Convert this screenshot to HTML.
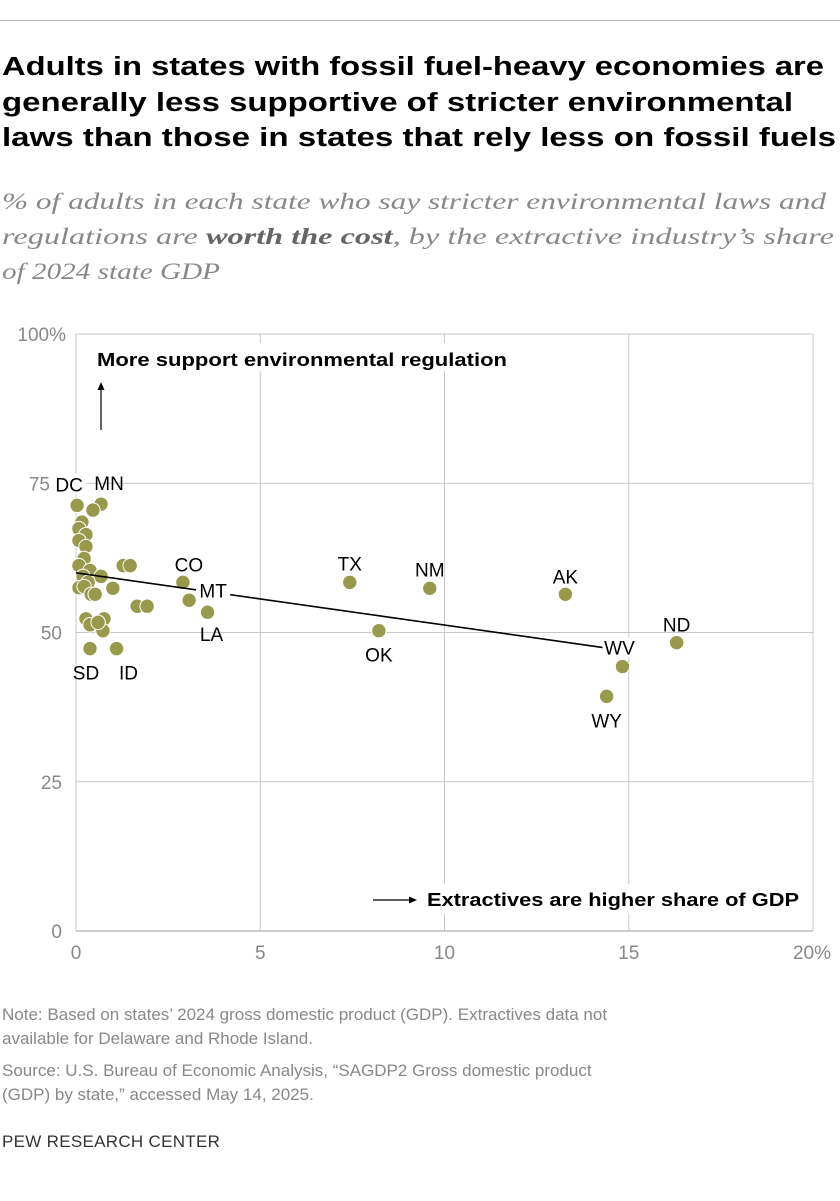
<!DOCTYPE html>
<html><head><meta charset="utf-8"><style>
body{margin:0;background:#fff;width:840px;height:1196px;overflow:hidden;font-family:"Liberation Sans",sans-serif;}
</style></head><body>
<svg width="840" height="1196" xmlns="http://www.w3.org/2000/svg">
<line x1="0" y1="20.5" x2="840" y2="20.5" stroke="#bbb" stroke-width="1"/>
<g font-family="Liberation Sans, sans-serif" font-weight="bold" font-size="25.5" fill="#000">
<text x="2" y="75" textLength="822" lengthAdjust="spacingAndGlyphs">Adults in states with fossil fuel-heavy economies are</text>
<text x="2" y="111" textLength="791" lengthAdjust="spacingAndGlyphs">generally less supportive of stricter environmental</text>
<text x="2" y="146" textLength="834" lengthAdjust="spacingAndGlyphs">laws than those in states that rely less on fossil fuels</text>
</g>
<g font-family="Liberation Serif, serif" font-style="italic" font-size="23" fill="#888">
<text x="2" y="209" textLength="824" lengthAdjust="spacingAndGlyphs">% of adults in each state who say stricter environmental laws and</text>
<text x="2" y="244" textLength="832" lengthAdjust="spacingAndGlyphs">regulations are <tspan font-weight="bold" fill="#666">worth the cost</tspan>, by the extractive industry’s share</text>
<text x="2" y="279" textLength="218" lengthAdjust="spacingAndGlyphs">of 2024 state GDP</text>
</g>
<g id="plot"></g>
<g font-size="17" fill="#888">
<text x="2" y="1020">Note: Based on states’ 2024 gross domestic product (GDP). Extractives data not</text>
<text x="2" y="1044">available for Delaware and Rhode Island.</text>
<text x="2" y="1076">Source: U.S. Bureau of Economic Analysis, “SAGDP2 Gross domestic product</text>
<text x="2" y="1100">(GDP) by state,” accessed May 14, 2025.</text>
</g>
<text x="2" y="1147" font-size="17" fill="#333" letter-spacing="0.3">PEW RESEARCH CENTER</text>
</svg>
<script>
const xTicks=[0,5,10,15,20];
const xTickLabels=["0","5","10","15","20%"];
const yTicks=[0,25,50,75,100];
const yTickLabels=["0","25","50","75","100%"];
const xs=[0.03,0.68,0.46,0.16,0.08,0.27,0.08,0.27,0.22,0.08,0.38,0.19,0.68,0.33,0.08,0.22,0.41,0.52,1.0,1.28,1.47,1.66,1.93,2.9,3.07,3.57,0.27,0.76,0.38,0.73,0.38,1.1,0.6,7.43,8.22,9.6,13.28,16.3,14.83,14.4];
const ys=[71.3,71.5,70.5,68.5,67.4,66.4,65.4,64.4,62.4,61.2,60.4,59.4,59.4,58.4,57.5,57.7,56.4,56.4,57.4,61.2,61.2,54.4,54.4,58.4,55.4,53.4,52.3,52.3,51.3,50.3,47.3,47.3,51.7,58.4,50.3,57.4,56.4,48.3,44.3,39.3];
const labels=["DC","MN","","","","","","","","","","","","","","","","","","","","","","CO","MT","LA","","","","","SD","ID","","TX","OK","NM","AK","ND","WV","WY"];
const labelDx=[-8,8,0,0,0,0,0,0,0,0,0,0,0,0,0,0,0,0,0,0,0,0,0,6,24,4,0,0,0,0,-4,12,0,0,0,0,0,0,-3,0];
const labelDy=[-21,-21,0,0,0,0,0,0,0,0,0,0,0,0,0,0,0,0,0,0,0,0,0,-18,-10,22,0,0,0,0,24,24,0,-19,24,-19,-18,-18,-19,24];
const trendX=[0,14.4];
const trendY=[60,47.4];
const X=v=>76+v*36.85, Y=v=>931-v*5.97;
const NS="http://www.w3.org/2000/svg";
const g=document.getElementById('plot');
function mk(t,a,p){const e=document.createElementNS(NS,t);for(const k in a)e.setAttribute(k,a[k]);(p||g).appendChild(e);return e;}
yTicks.forEach((t,i)=>{
 const l=mk('line',{x1:76,x2:X(20),y1:Y(t),y2:Y(t),stroke:t===0?'#999':'#c8c8c8','stroke-width':1});
 
 
 const tx=mk('text',{x:t===100?66:(t===75?50:62),y:Y(t)+7,'text-anchor':'end','font-size':19,fill:'#888'});tx.textContent=yTickLabels[i];
 
 
});
xTicks.forEach((t,i)=>{
 const l=mk('line',{x1:X(t),x2:X(t),y1:Y(100),y2:Y(0),stroke:'#c8c8c8','stroke-width':1});
 
 
 const tx=mk('text',{x:i===4?X(t)+18:X(t),y:959,'text-anchor':i===4?'end':'middle','font-size':19,fill:'#888'});tx.textContent=xTickLabels[i];
 
 
});
let a=mk('rect',{x:92,y:343,width:420,height:28,fill:'#fff'});

a=mk('text',{x:97,y:366,'font-size':18,'font-weight':'bold',textLength:410,lengthAdjust:'spacingAndGlyphs'});a.textContent='More support environmental regulation';

a=mk('line',{x1:101,x2:101,y1:430,y2:388,stroke:'#000','stroke-width':1.2});

a=mk('path',{d:'M97.5,390 L101,382 L104.5,390 Z',fill:'#000'});

a=mk('rect',{x:420,y:884,width:390,height:30,fill:'#fff'});

a=mk('text',{x:427,y:906,'font-size':18,'font-weight':'bold',textLength:372,lengthAdjust:'spacingAndGlyphs'});a.textContent='Extractives are higher share of GDP';

a=mk('line',{x1:373,x2:410,y1:900,y2:900,stroke:'#000','stroke-width':1.2});

a=mk('path',{d:'M409,896.5 L417,900 L409,903.5 Z',fill:'#000'});

xs.forEach((v,i)=>{
 const c=mk('circle',{cx:X(v),cy:Y(ys[i]),r:7.2,fill:'#98994c',stroke:'#fff','stroke-width':1});
 
 
});
const tl=mk('line',{x1:X(trendX[0]),y1:Y(trendY[0]),x2:X(trendX[1]),y2:Y(trendY[1]),stroke:'#000','stroke-width':1.6});


labels.forEach((s,i)=>{
 if(!s)return;
 const x=X(xs[i])+labelDx[i],y=Y(ys[i])+labelDy[i];
 if(s==='MT'||s==='WV'||s==='DC'){const r=mk('rect',{x:x-17,y:y-10,width:34,height:20,fill:'#fff'});
  
  }
 const t=mk('text',{x:x,y:y+7,'text-anchor':'middle','font-size':19,fill:'#000'});t.textContent=s;
 
 
});
</script>
</body></html>
